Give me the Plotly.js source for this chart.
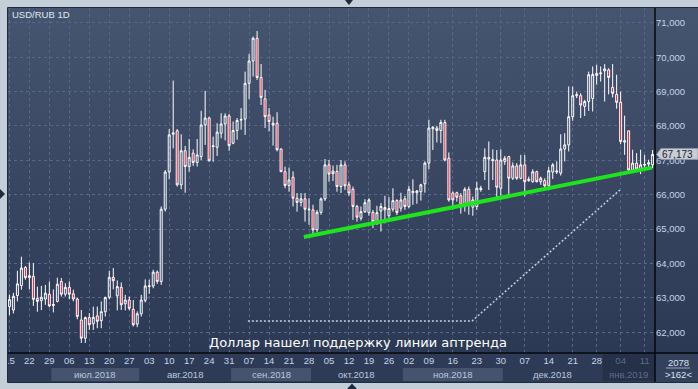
<!DOCTYPE html>
<html><head><meta charset="utf-8">
<script src="https://cdn.plot.ly/plotly-3.0.1.min.js"></script>
<style>html,body{margin:0;padding:0;background:#c4ced9;overflow:hidden}#chart{width:698px;height:389px}</style>
</head><body><div id="chart"></div>
<script>
// ---- data ----
const openP = [62.75,62.65,63.07,63.36,63.885,63.59,63.63,62.99,62.92,62.97,63.11,62.78,62.90,63.48,63.11,63.31,63.12,62.97,62.36,61.83,
62.43,62.25,62.48,62.34,62.60,63.02,63.60,63.06,63.31,62.83,62.94,62.67,62.24,62.54,62.93,63.33,63.35,63.75,63.48,65.58,
66.66,67.76,67.86,66.29,67.28,66.82,67.21,66.94,67.11,68.03,68.23,67.40,67.38,67.79,68.06,68.29,67.50,67.87,68.17,68.20,
69.24,69.89,70.55,69.41,68.79,68.32,68.08,68.08,67.33,66.67,66.27,66.51,65.90,65.78,65.88,65.56,65.56,64.98,65.49,65.88,
66.87,66.69,66.68,66.24,66.87,66.29,66.16,65.66,65.32,65.51,65.48,65.49,65.22,65.53,65.56,65.39,65.58,65.83,65.61,65.88,
65.66,66.06,66.06,66.09,66.32,66.92,67.92,67.94,67.87,68.10,67.06,66.05,66.06,65.97,65.66,66.16,65.64,65.66,66.15,66.67,
67.04,67.03,67.01,66.19,66.97,67.11,66.48,66.84,66.48,66.87,66.41,66.38,66.67,66.38,66.41,66.27,66.66,66.66,66.63,67.33,
67.45,68.27,68.88,68.88,68.57,68.71,68.80,69.47,69.52,69.60,69.63,69.12,68.92,68.69,67.53,67.86,66.72,66.92,66.75,66.86,
66.89,66.87];
const highP = [63.10,63.15,63.79,64.20,63.93,64.03,64.01,63.33,63.35,63.38,63.48,63.25,63.59,63.58,63.43,63.48,63.24,63.01,62.65,62.46,
62.56,62.75,62.75,62.90,63.04,63.79,63.87,63.51,63.45,63.09,63.04,62.94,62.61,63.09,63.54,63.53,63.82,63.80,65.66,66.72,
67.91,69.32,67.91,67.76,67.42,67.62,67.32,67.62,68.44,69.02,68.27,67.69,68.08,68.37,68.37,68.35,68.13,68.23,68.52,69.58,
70.10,70.60,70.76,69.80,69.05,68.52,68.27,68.40,67.35,66.82,66.79,66.68,66.05,66.05,66.05,65.90,65.71,65.56,65.92,67.04,
67.01,66.85,66.87,67.01,66.97,66.38,66.24,65.71,65.66,65.87,65.90,65.56,65.68,65.76,65.97,65.93,66.19,65.87,66.06,65.97,
66.26,66.45,66.14,66.32,66.97,68.18,68.00,68.00,68.18,68.18,67.23,66.10,66.09,66.05,66.22,66.24,65.95,66.38,66.26,67.35,
67.55,67.32,67.30,67.32,67.13,67.13,66.94,66.92,67.16,67.16,66.53,66.74,66.70,66.53,66.48,66.81,66.92,66.97,67.76,67.79,
69.15,69.15,69.00,68.95,68.76,69.58,69.73,69.78,69.73,69.80,69.68,69.80,69.49,69.00,68.30,67.86,67.31,67.21,67.31,67.16,
67.02,67.30];
const lowP = [62.50,62.55,62.90,63.24,63.53,63.25,62.77,62.60,62.65,62.80,62.73,62.58,62.87,63.04,63.04,62.96,62.90,62.38,61.69,61.69,
62.07,62.07,62.12,62.12,62.46,62.96,63.25,62.64,62.65,62.64,62.64,62.17,62.15,62.46,62.87,63.12,63.28,63.41,63.38,65.51,
66.45,67.35,66.24,66.16,66.06,66.67,66.84,66.82,67.01,67.45,66.96,66.96,67.13,67.64,67.58,67.28,67.47,67.60,67.89,67.74,
68.78,69.44,69.34,68.61,67.94,67.84,67.43,67.26,66.66,66.19,66.09,65.66,65.51,65.66,65.22,65.13,64.84,64.91,65.42,65.82,
66.38,66.40,66.09,66.05,66.14,65.97,65.27,65.22,65.25,65.47,65.39,65.03,65.12,64.93,65.17,65.32,65.51,65.41,65.51,65.56,
65.61,65.71,65.74,65.83,66.06,66.74,67.30,67.52,67.50,66.97,65.80,65.57,65.80,65.45,65.51,65.42,65.39,65.56,66.09,66.43,
66.14,66.43,65.93,65.97,66.87,65.99,66.43,66.43,66.45,65.95,66.38,66.35,66.36,66.29,66.16,66.20,66.46,66.60,66.56,66.97,
67.26,68.15,68.81,68.23,68.29,68.44,68.42,69.20,69.29,68.71,68.92,68.83,68.50,67.47,67.16,66.63,66.63,66.68,66.60,66.77,
66.77,66.77];
const closeP = [62.95,63.05,63.41,63.87,63.59,63.65,62.96,62.90,63.02,63.14,62.77,62.81,63.40,63.11,63.31,63.11,62.97,62.46,61.83,62.43,
62.22,62.44,62.32,62.60,63.01,63.60,63.50,63.33,62.80,62.94,62.70,62.22,62.54,62.94,63.35,63.35,63.75,63.48,65.58,66.66,
67.74,67.80,66.29,67.28,66.82,67.09,66.94,67.16,68.03,68.23,66.99,67.42,67.82,68.06,68.29,67.43,67.87,68.16,68.19,69.24,
69.89,70.55,69.41,68.83,68.27,68.13,68.03,67.31,66.67,66.27,66.43,65.90,65.78,65.88,65.58,65.58,64.98,65.49,65.88,66.87,
66.60,66.61,66.24,66.87,66.26,66.05,65.66,65.35,65.51,65.77,65.85,65.22,65.48,65.66,65.63,65.60,65.83,65.48,65.85,65.66,
66.16,66.10,66.11,66.29,66.92,67.94,67.96,67.87,68.10,67.01,65.85,65.85,65.93,65.71,66.16,65.71,65.85,66.19,66.19,67.09,
67.08,66.99,66.22,67.01,67.06,66.48,66.84,66.48,66.87,66.38,66.45,66.67,66.38,66.48,66.26,66.70,66.87,66.69,67.33,67.45,
68.27,68.88,68.91,68.61,68.71,69.49,69.50,69.53,69.54,69.66,69.41,68.95,68.69,67.55,67.57,66.72,66.92,66.75,66.87,66.88,
66.93,67.173];

const tickIdx  = [0,5,10,15,20,25,30,35,40,45,50,55,60,65,70,75,80,85,90,95,100,105,111,117,123,129,135,141,147,153,159];
const tickText = ['15','22','29','06','13','20','27','03','10','17','24','31','07','14','21','28','05','12','19','26','02','09','16','23','30','07','14','21','28','04','11'];
const monthNames  = ['июл.2018','авг.2018','сен.2018','окт.2018','ноя.2018','дек.2018','янв.2019'];
const monthBounds = [10.5,32.5,55.5,75.5,98.5,123.5,148.5,161.6];

const trendX = [73.7,160.8];
const trendY = [64.77,66.79];
const guideX = [59.7,115.8,152.8];
const guideY = [62.33,62.33,66.14];

const chartTitle = 'USD/RUB 1D';
const noteText = 'Доллар нашел поддержку линии аптренда';
const barCount = '&gt;162&lt;';
const scrollPos = '2078';

// ---- geometry helpers (pixel -> paper) ----
const PL=8, PR=655, PT=8, PB=353, PW=PR-PL, PH=PB-PT;
const PX = x => (x-PL)/PW;
const PY = y => (PB-y)/PH;
const YMIN = 61.40, YMAX = 71.43;

const idx = openP.map((_, i) => i);
const lastClose = closeP[closeP.length-1];
const janStart = monthBounds[6];

const axisFont = {family:'Liberation Sans, Arial, sans-serif', size:9.5, color:'#c6d3e8'};

const traces = [
  {type:'candlestick', x:idx, open:openP, high:highP, low:lowP, close:closeP,
   increasing:{line:{color:'#ffffff', width:1}, fillcolor:'rgba(0,0,0,0)'},
   decreasing:{line:{color:'#ffffff', width:1}, fillcolor:'#d8102f'},
   whiskerwidth:0, hoverinfo:'skip', showlegend:false},
  {type:'scatter', mode:'lines', x:guideX, y:guideY, line:{color:'#c9ced8', width:1.5, dash:'2px,2px'}, hoverinfo:'skip', showlegend:false},
  {type:'scatter', mode:'lines', x:trendX, y:trendY, line:{color:'#1ee41e', width:4}, hoverinfo:'skip', showlegend:false}
];

const gradSvg = "<svg xmlns='http://www.w3.org/2000/svg' width='10' height='100' preserveAspectRatio='none'><defs><linearGradient id='g' x1='0' y1='0' x2='0' y2='1'><stop offset='0' stop-color='#45546f'/><stop offset='1' stop-color='#2c3954'/></linearGradient></defs><rect width='10' height='100' fill='url(#g)'/></svg>";

const shapes = [];
// bottom axis panel
shapes.push({type:'rect', xref:'paper', yref:'paper', x0:0, x1:PX(698), y0:PY(382), y1:0, fillcolor:'#2e3b57', line:{width:0}, layer:'below'});
// month bands
[0,2,4].forEach(k => shapes.push({type:'rect', xref:'x', yref:'paper', x0:monthBounds[k], x1:monthBounds[k+1], y0:PY(381), y1:PY(368), fillcolor:'#45536f', line:{width:0}, layer:'below'}));
shapes.push({type:'rect', xref:'x', yref:'paper', x0:janStart, x1:monthBounds[7], y0:PY(381), y1:0, fillcolor:'#253049', line:{width:0}, layer:'below'});
// bottom-right box
shapes.push({type:'rect', xref:'paper', yref:'paper', x0:1, x1:PX(698), y0:PY(382), y1:0, fillcolor:'#34415d', line:{width:0}, layer:'below'});
shapes.push({type:'line', xref:'paper', yref:'paper', x0:PX(666), x1:PX(690), y0:PY(368), y1:PY(368), line:{color:'#9aa6ba', width:1}});
// left cover strip
shapes.push({type:'rect', xref:'paper', yref:'paper', x0:PX(0), x1:PX(7.5), y0:PY(389), y1:PY(0), fillcolor:'#c4ced9', line:{width:0}, layer:'above'});
// panel border
shapes.push({type:'rect', xref:'paper', yref:'paper', x0:PX(7.5), x1:PX(699), y0:PY(382.5), y1:PY(7.5), line:{color:'#1f2a3c', width:1}, layer:'above'});
// separators
shapes.push({type:'line', xref:'paper', yref:'paper', x0:1, x1:1, y0:PY(382), y1:1, line:{color:'#05080d', width:1.5}, layer:'above'});
shapes.push({type:'line', xref:'paper', yref:'paper', x0:0, x1:PX(698), y0:0, y1:0, line:{color:'#05080d', width:1.5}, layer:'above'});
// window triangles
shapes.push({type:'path', xref:'paper', yref:'paper', path:`M${PX(345)},${PY(0)} L${PX(353)},${PY(0)} L${PX(349)},${PY(5)} Z`, fillcolor:'#1d2a3c', line:{width:0}, layer:'above'});
shapes.push({type:'path', xref:'paper', yref:'paper', path:`M${PX(0)},${PY(189)} L${PX(0)},${PY(199)} L${PX(5)},${PY(194)} Z`, fillcolor:'#1d2a3c', line:{width:0}, layer:'above'});
shapes.push({type:'path', xref:'paper', yref:'paper', path:`M${PX(347)},${PY(389)} L${PX(357)},${PY(389)} L${PX(352)},${PY(383.5)} Z`, fillcolor:'#1d2a3c', line:{width:0}, layer:'above'});
// price tag box + arrow
const pyPrice = (lastClose - YMIN) / (YMAX - YMIN);
shapes.push({type:'path', xref:'paper', yref:'paper',
  path:`M${PX(656.5)},${pyPrice} L${PX(661)},${pyPrice+6/PH} L${PX(698)},${pyPrice+6/PH} L${PX(698)},${pyPrice-5/PH} L${PX(661)},${pyPrice-5/PH} Z`,
  fillcolor:'#c9cdd5', line:{color:'#8d95a3', width:0.8}, layer:'above'});

const annotations = [];
annotations.push({xref:'paper', yref:'paper', x:PX(10), y:PY(15), xanchor:'left', yanchor:'middle', showarrow:false, text:chartTitle,
  font:{family:'Liberation Sans, Arial, sans-serif', size:9.5, color:'#e0e7f1'}});
annotations.push({xref:'paper', yref:'paper', x:PX(357.5), y:PY(342.5), xanchor:'center', yanchor:'middle', showarrow:false, text:noteText,
  font:{family:'DejaVu Sans, sans-serif', size:13, color:'#ffffff'}});
monthNames.forEach((m, k) => annotations.push({xref:'x', yref:'paper', x:(monthBounds[k]+monthBounds[k+1])/2, y:PY(374.5), xanchor:'center', yanchor:'middle', showarrow:false, text:m,
  font:{family:'Liberation Sans, Arial, sans-serif', size:9.5, color: k===6 ? '#5f6c84' : '#bcc8db'}}));
annotations.push({xref:'paper', yref:'paper', x:PX(678), y:PY(368.5), xanchor:'center', yanchor:'middle', showarrow:false,
  text:scrollPos + '<br>' + barCount, borderpad:0,
  font:{family:'Liberation Sans, Arial, sans-serif', size:9.5, color:'#d9e1ee'}});
annotations.push({xref:'paper', yref:'paper', x:PX(660), y:pyPrice, xanchor:'left', yanchor:'middle', showarrow:false,
  text:lastClose.toFixed(3).replace('.', ','),
  font:{family:'Liberation Sans, Arial, sans-serif', size:10, color:'#1a2232'}});

const tickLabels = tickText.map((t, k) => tickIdx[k] >= janStart ? `<span style="color:#5f6c84">${t}</span>` : t);

const layout = {
  width:698, height:389,
  margin:{l:PL, r:698-PR, t:PT, b:389-PB, pad:0},
  paper_bgcolor:'#c4ced9', plot_bgcolor:'rgba(0,0,0,0)',
  separators:', ',
  showlegend:false, hovermode:false, dragmode:false,
  xaxis:{type:'linear', range:[-0.35, 161.6], tickmode:'array', tickvals:tickIdx, ticktext:tickLabels,
    showgrid:true, gridcolor:'#576886', gridwidth:1, griddash:'3px,3px', zeroline:false, showline:false,
    ticks:'', tickfont:axisFont, rangeslider:{visible:false}, fixedrange:true},
  yaxis:{side:'right', range:[YMIN, YMAX], tick0:62, dtick:1, tickformat:'.3f',
    showgrid:true, gridcolor:'#576886', gridwidth:1, griddash:'3px,3px', zeroline:false, showline:false,
    ticks:'', tickfont:axisFont, fixedrange:true},
  images:[{source:'data:image/svg+xml;utf8,'+encodeURIComponent(gradSvg), xref:'paper', yref:'paper', x:0, y:1, sizex:PX(698), sizey:1,
    xanchor:'left', yanchor:'top', sizing:'stretch', layer:'below'}],
  shapes:shapes, annotations:annotations
};

Plotly.newPlot('chart', traces, layout, {displayModeBar:false, staticPlot:true});
</script></body></html>
